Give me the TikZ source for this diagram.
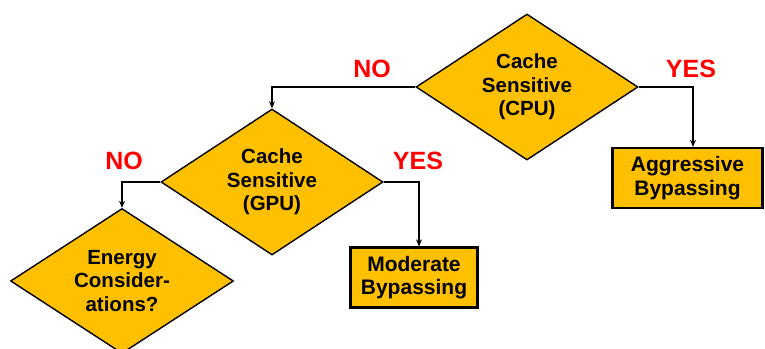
\documentclass[tikz,border=0pt]{standalone}
\usepackage{fontspec}
\setmainfont{Liberation Sans}
\usetikzlibrary{arrows.meta, shapes.geometric}
\definecolor{boxfill}{HTML}{FFC000}
\definecolor{answer}{HTML}{FF0000}

\begin{document}
\begin{tikzpicture}[x=1pt, y=-1pt,
    decision/.style={diamond, aspect=1.52, draw=black, line width=1.4pt, fill=boxfill, inner sep=0pt,
        minimum width=222pt, minimum height=146pt, align=center,
        font=\fontsize{20.5}{23.5}\selectfont\bfseries},
    outcome/.style={rectangle, draw=black, line width=2.2pt, fill=boxfill, inner sep=0pt,
        minimum height=60pt, align=center,
        font=\fontsize{21}{23.5}\selectfont\bfseries},
    answer/.style={text=answer, font=\fontsize{25}{25}\selectfont\bfseries},
    arrow/.style={-{Stealth[length=7pt, width=6pt]}, line width=1.3pt}]
    \useasboundingbox (0,0) rectangle (765,348);
    \node[decision] (cpu) at (527,87) {Cache\\Sensitive\\(CPU)};
    \node[decision] (gpu) at (272,182) {Cache\\Sensitive\\(GPU)};
    \node[decision, minimum width=223pt, minimum height=145pt] (energy) at (122,281) {Energy\\Consider-\\ations?};
    \node[outcome, minimum width=150pt] (aggr) at (687.5,178) {Aggressive\\Bypassing};
    \node[outcome, minimum width=127pt] (moder) at (414,277.5) {Moderate\\Bypassing};
    \draw[arrow] (cpu.west) -| (gpu.north);
    \draw[arrow] (cpu.east) -| ([xshift=5.5pt]aggr.north);
    \draw[arrow] (gpu.west) -| (energy.north);
    \draw[arrow] (gpu.east) -| ([xshift=5pt]moder.north);
    \node[answer] (cpuno) at (372,69) {NO};
    \node[answer] (cpuyes) at (691,69) {YES};
    \node[answer] (gpuno) at (124,161) {NO};
    \node[answer] (gpuyes) at (418,161) {YES};
\end{tikzpicture}
\end{document}
